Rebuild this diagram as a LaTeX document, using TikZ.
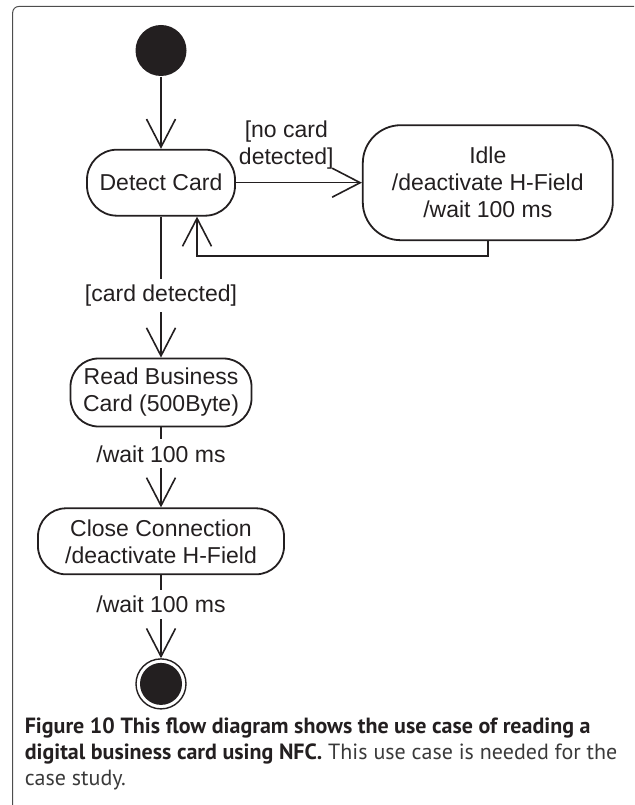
\documentclass[tikz,border=0pt]{standalone}
\usepackage{fontspec}
\setmainfont{Liberation Sans}
\newfontfamily\capfont{PT Sans}
\usetikzlibrary{arrows.meta,positioning}
\definecolor{ink}{HTML}{231F20}
\definecolor{framegray}{HTML}{4D4D4D}
\definecolor{captgray}{HTML}{3A3A3A}
\newcommand{\diagfont}{\fontsize{23pt}{27pt}\selectfont}

\begin{document}
\begin{tikzpicture}[x=1pt,y=1pt,->,>={Straight Barb[length=28pt,width=29pt]},
		line width=1.6pt,color=ink,
		every node/.style={font=\diagfont},
		action/.style={draw,rectangle,rounded corners=30pt,line width=1.8pt,
			minimum height=66pt,align=center,inner sep=2pt},
		startdot/.style={circle,fill=ink,minimum size=51pt,inner sep=0pt},
		enddot/.style={circle,draw,line width=1.4pt,minimum size=50pt,inner sep=0pt,
			path picture={\fill[ink] (path picture bounding box.center) circle (21pt);}},
		guard/.style={fill=white,inner xsep=2pt,inner ysep=6pt}]

		\useasboundingbox (0,0) rectangle (634,-805);
		\draw[-,framegray,line width=1pt,rounded corners=6pt] (12.7,-805) -- (12.7,-6.5) -- (634,-6.5);

		\node[startdot] (start) at (161,-50.5) {};
		\node[action,minimum width=148pt] (detect) [below=72pt of start] {Detect Card};
		\node[action,minimum width=250pt,minimum height=115pt,rounded corners=38pt] (idle) [right=126pt of detect] {Idle\\/deactivate H-Field\\/wait 100 ms};
		\node[action,minimum width=181pt,minimum height=68pt,rounded corners=28pt] (read) [below=141pt of detect] {Read Business\\Card (500Byte)};
		\node[action,minimum width=246pt,rounded corners=28pt] (close) [below=80pt of read] {Close Connection\\/deactivate H-Field};
		\node[enddot] (end) [below=83pt of close] {};

		\path (start) edge (detect)
		(detect) edge node [pos=0.4,above=11pt,align=center,inner sep=2pt] {[no card\\detected]} (idle)
		edge (read)
		(read) edge (close)
		(close) edge (end);
		\draw (idle.south) -- ++(0,-15) -| ([xshift=36pt]detect.south);

		% guards on top of the lines
		\path[-] (detect) -- node [guard,pos=0.56] {[card detected]} (read)
		(read) -- node [guard,pos=0.33] {/wait 100 ms} (close)
		(close) -- node [guard,pos=0.35] {/wait 100 ms} (end);

		\node[anchor=north west,align=left,inner sep=0pt,
			font=\capfont\fontsize{22pt}{26pt}\selectfont] (caption) at (24,-717)
		{\textbf{Figure 10 This flow diagram shows the use case of reading a}\\
			\textbf{digital business card using NFC.} \textcolor{captgray}{This use case is needed for the}\\
			\textcolor{captgray}{case study.}};
	\end{tikzpicture}
\end{document}
